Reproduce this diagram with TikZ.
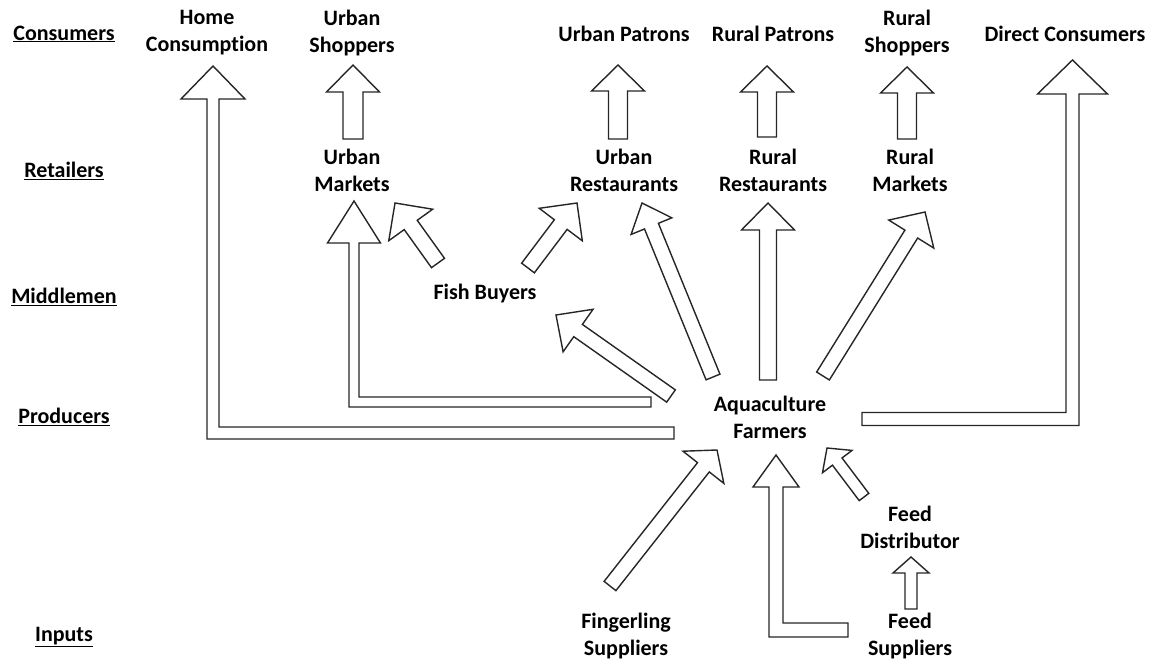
\documentclass[tikz,border=0pt]{standalone}
\usepackage{fontspec}
\setmainfont{Carlito}[Ligatures=NoCommon]
\usetikzlibrary{calc}

\tikzset{
  blocco/.style={draw=black!85, line width=1.4pt, fill=white, line join=miter},
  etichetta/.style={font=\fontsize{22}{27}\selectfont\bfseries, align=center, inner sep=0pt},
  livello/.style={font=\fontsize{22}{27}\selectfont\bfseries, inner sep=0pt}
}

\begin{document}
\begin{tikzpicture}[x=1pt,y=-1pt]
\useasboundingbox (0,0) rectangle (1150,660);

\def\freccia(#1,#2,#3,#4,#5){ % coda, punta, mezzo corpo, mezza testa, lunghezza testa
\draw[blocco] ($(#1)!#3pt!90:(#2)$) -- ($(#2)!#5pt!(#1)!#3pt!90:(#2)$) -- ($(#2)!#5pt!(#1)!#4pt!90:(#2)$) -- (#2) -- ($(#2)!#5pt!(#1)!#4pt!-90:(#2)$) -- ($(#2)!#5pt!(#1)!#3pt!-90:(#2)$) -- ($(#1)!#3pt!-90:(#2)$) -- cycle;}

\def\piegata(#1,#2,#3,#4,#5,#6){ % freccia a L: coda orizzontale, punta in alto, lato (1 dx, -1 sx)
\draw[blocco] ($(#1)+(0,-#3)$) -| ($(#2)+({(#6)*(#3)},#5)$) -- ($(#2)+({(#6)*(#4)},#5)$) -- (#2) -- ($(#2)+({-(#6)*(#4)},#5)$) -- ($(#2)+({-(#6)*(#3)},#5)$) |- ($(#1)+(0,#3)$) -- cycle;}

%Livelli a sinistra
\node[livello] (lcons) at (64,34) {\underline{Consumers}};
\node[livello] (lret) at (64,171) {\underline{Retailers}};
\node[livello] (lmid) at (64,297) {\underline{Middlemen}};
\node[livello] (lprod) at (64,417) {\underline{Producers}};
\node[livello] (linp) at (64,637) {\underline{Inputs}};

%Consumatori
\node[etichetta] (home) at (207,33) {Home\\Consumption};
\node[etichetta] (ushop) at (352,33) {Urban\\Shoppers};
\node[etichetta] (upatr) at (624,34) {Urban Patrons};
\node[etichetta] (rpatr) at (773,34) {Rural Patrons};
\node[etichetta] (rshop) at (907,33) {Rural\\Shoppers};
\node[etichetta] (direct) at (1065,34) {Direct Consumers};

%Dettaglianti
\node[etichetta] (umark) at (352,170) {Urban\\Markets};
\node[etichetta] (urest) at (624,170) {Urban\\Restaurants};
\node[etichetta] (rrest) at (773,170) {Rural\\Restaurants};
\node[etichetta] (rmark) at (910,170) {Rural\\Markets};

%Intermediari, produttori, fornitori
\node[etichetta] (fish) at (485,294) {Fish Buyers};
\node[etichetta] (farm) at (770,417) {Aquaculture\\Farmers};
\node[etichetta] (fdist) at (910,527) {Feed\\Distributor};
\node[etichetta] (fing) at (626,636) {Fingerling\\Suppliers};
\node[etichetta] (fsupp) at (910,636) {Feed\\Suppliers};

%Code (c) e punte (p) delle frecce
\coordinate (home-c) at (674,433);   \coordinate (home-p) at (213,66);
\coordinate (umark-c) at (651,402);  \coordinate (umark-p) at (354,201);
\coordinate (direct-c) at (862,419); \coordinate (direct-p) at (1072.5,60);
\coordinate (fsupp-c) at (848,630);  \coordinate (fsupp-p) at (776,455);
\coordinate (ushop-c) at (353,139);  \coordinate (ushop-p) at (353,65);
\coordinate (upatr-c) at (618,139);  \coordinate (upatr-p) at (618,65);
\coordinate (rpatr-c) at (767,137);  \coordinate (rpatr-p) at (767,66);
\coordinate (rshop-c) at (907,139);  \coordinate (rshop-p) at (907,67);
\coordinate (fum-c) at (438,263);    \coordinate (fum-p) at (395,203);
\coordinate (fur-c) at (528,268);    \coordinate (fur-p) at (577,203);
\coordinate (ffish-c) at (671,396);  \coordinate (ffish-p) at (556,315);
\coordinate (fur2-c) at (713,377);   \coordinate (fur2-p) at (642,203);
\coordinate (frr-c) at (768,380);    \coordinate (frr-p) at (768,203);
\coordinate (frm-c) at (823,376);    \coordinate (frm-p) at (925,212);
\coordinate (fing-c) at (610,586);   \coordinate (fing-p) at (717,450);
\coordinate (fdist-c) at (864,497);  \coordinate (fdist-p) at (827,448);
\coordinate (fsd-c) at (911,609);    \coordinate (fsd-p) at (911,557);

%Frecce a L
\piegata(home-c,home-p,6,32,33,1)
\piegata(umark-c,umark-p,5,26.5,42,1)
\piegata(direct-c,direct-p,6.5,35,34,-1)
\piegata(fsupp-c,fsupp-p,7,23,32,1)

%Frecce dritte
\freccia(ushop-c,ushop-p,10,26.5,27)
\freccia(upatr-c,upatr-p,9.5,26.5,26)
\freccia(rpatr-c,rpatr-p,9.5,26.5,26)
\freccia(rshop-c,rshop-p,9.5,26.5,26)
\freccia(fum-c,fum-p,8,27,27)
\freccia(fur-c,fur-p,8,27,27)
\freccia(ffish-c,ffish-p,7.5,26,27)
\freccia(fur2-c,fur2-p,7.5,22,25)
\freccia(frr-c,frr-p,8.5,26.5,27)
\freccia(frm-c,frm-p,7.5,26.5,26)
\freccia(fing-c,fing-p,7.5,26,22)
\freccia(fdist-c,fdist-p,6,18.5,17)
\freccia(fsd-c,fsd-p,6,18,16)

\end{tikzpicture}
\end{document}
